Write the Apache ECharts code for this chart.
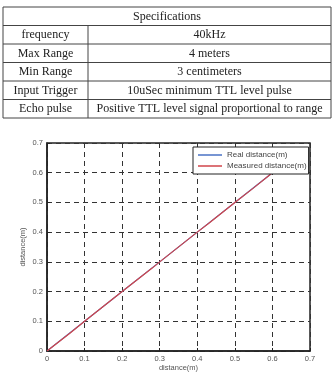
<!DOCTYPE html>
<html><head><meta charset="utf-8">
<script src="https://cdn.jsdelivr.net/npm/echarts@6/dist/echarts.min.js"></script>
<style>html,body{margin:0;padding:0;background:#fff}#c{width:333px;height:375px}</style>
</head><body><div id="c"></div>
<script>
var tableTitle = 'Specifications';
var specNames = ['frequency','Max Range','Min Range','Input Trigger','Echo pulse'];
var specValues = ['40kHz','4 meters','3 centimeters','10uSec minimum TTL level pulse','Positive TTL level signal proportional to range'];
var realX = [0, 0.1, 0.2, 0.3, 0.4, 0.5, 0.6];
var realY = [0, 0.1, 0.2, 0.3, 0.4, 0.5, 0.6];
var measX = [0, 0.06, 0.1, 0.2, 0.28, 0.3, 0.4, 0.43, 0.5, 0.55, 0.6];
var measY = [0, 0.059, 0.1, 0.2, 0.279, 0.3, 0.4, 0.429, 0.5, 0.549, 0.6];
var seriesNames = ['Real distance(m)','Measured distance(m)'];
var xName = 'distance(m)', yName = 'distance(m)';

var chart = echarts.init(document.getElementById('c'));
var tL = 3, tR = 331, tC = 88, tTop = 7, rowH = 18.5;
var g = [];
var nRows = specNames.length + 1;
var serif = '"Liberation Serif", "DejaVu Serif", serif';
var tfont = '12px ' + serif;
for (var i = 0; i <= nRows; i++) {
  var y = tTop + i * rowH;
  g.push({type:'line', shape:{x1:tL,y1:y,x2:tR,y2:y}, style:{stroke:'#444',lineWidth:1}});
}
g.push({type:'line', shape:{x1:tL,y1:tTop,x2:tL,y2:tTop+nRows*rowH}, style:{stroke:'#444',lineWidth:1}});
g.push({type:'line', shape:{x1:tR,y1:tTop,x2:tR,y2:tTop+nRows*rowH}, style:{stroke:'#444',lineWidth:1}});
g.push({type:'line', shape:{x1:tC,y1:tTop+rowH,x2:tC,y2:tTop+nRows*rowH}, style:{stroke:'#444',lineWidth:1}});
g.push({type:'text', x:(tL+tR)/2, y:tTop+rowH/2+0.5, style:{text:tableTitle, font:tfont, fill:'#222', align:'center', verticalAlign:'middle'}});
for (var j = 0; j < specNames.length; j++) {
  var cy = tTop + (j+1.5)*rowH + 0.5;
  g.push({type:'text', x:(tL+tC)/2, y:cy, style:{text:specNames[j], font:tfont, fill:'#222', align:'center', verticalAlign:'middle'}});
  g.push({type:'text', x:(tC+tR)/2, y:cy, style:{text:specValues[j], font:tfont, fill:'#222', align:'center', verticalAlign:'middle'}});
}

function pairs(xs, ys){ return xs.map(function(x,i){return [x, ys[i]];}); }
var sans = '"Liberation Sans", Arial, sans-serif';
chart.setOption({
  animation:false,
  graphic:g,
  grid:{left:47, top:143, width:263, height:208, show:true, borderColor:'#222', borderWidth:1.5, outerBoundsMode:'none', containLabel:false},
  legend:{
    data:seriesNames, orient:'vertical', left:193, top:147, itemGap:3, icon:'rect',
    itemWidth:24, itemHeight:1.5, padding:[4,2,4,5],
    backgroundColor:'#fff', borderColor:'#222', borderWidth:1,
    textStyle:{fontSize:8, color:'#444', fontFamily:sans}
  },
  xAxis:{type:'value', min:0, max:0.7, interval:0.1, name:xName, nameLocation:'middle', nameGap:13, nameMoveOverlap:false,
    nameTextStyle:{fontSize:7.5, color:'#555', fontFamily:sans},
    axisLine:{show:true, lineStyle:{color:'#222', width:1.5}},
    axisTick:{show:true, inside:true, length:3, lineStyle:{color:'#222'}},
    axisLabel:{fontSize:7.5, color:'#555', margin:4, fontFamily:sans, formatter:function(v){return String(+v.toFixed(1));}},
    splitLine:{show:true, lineStyle:{color:'#333', type:[5,4], width:1}}},
  yAxis:{type:'value', min:0, max:0.7, interval:0.1, name:yName, nameLocation:'middle', nameGap:20, nameMoveOverlap:false,
    nameTextStyle:{fontSize:7.5, color:'#555', fontFamily:sans},
    axisLine:{show:true, lineStyle:{color:'#222', width:1.5}},
    axisTick:{show:true, inside:true, length:3, lineStyle:{color:'#222'}},
    axisLabel:{fontSize:7.5, color:'#555', margin:4, fontFamily:sans, formatter:function(v){return String(+v.toFixed(1));}},
    splitLine:{show:true, lineStyle:{color:'#333', type:[5,4], width:1}}},
  series:[
    {name:seriesNames[0], type:'line', data:pairs(realX, realY), symbol:'none', lineStyle:{color:'#4a72c4', width:1.2}, itemStyle:{color:'#4a72c4'}},
    {name:seriesNames[1], type:'line', data:pairs(measX, measY), symbol:'none', lineStyle:{color:'#d0454a', width:1.2}, itemStyle:{color:'#d0454a'}}
  ]
});
</script></body></html>
